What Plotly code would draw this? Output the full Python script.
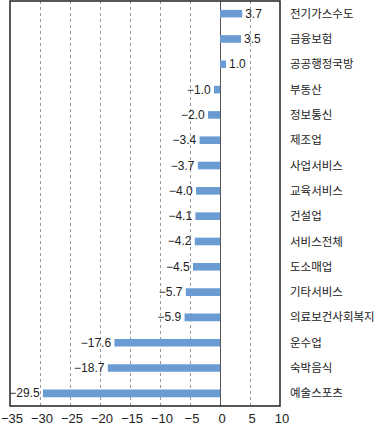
import plotly.graph_objects as go

categories = ["전기가스수도", "금융보험", "공공행정국방", "부동산", "정보통신", "제조업",
              "사업서비스", "교육서비스", "건설업", "서비스전체", "도소매업", "기타서비스",
              "의료보건사회복지", "운수업", "숙박음식", "예술스포츠"]
values = [3.7, 3.5, 1.0, -1.0, -2.0, -3.4, -3.7, -4.0, -4.1, -4.2, -4.5, -5.7,
          -5.9, -17.6, -18.7, -29.5]
x_ticks = [-35, -30, -25, -20, -15, -10, -5, 0, 5, 10]

def fmt(v, d):
    return f"{v:.{d}f}".replace("-", "\u2212")

fig = go.Figure(go.Bar(
    y=categories, x=values, orientation="h",
    marker=dict(color="#6a9bd3", line=dict(width=0)),
    width=0.3,
    text=[fmt(v, 1) for v in values], textposition="outside",
    textfont=dict(size=12, color="#222", family="Liberation Sans"),
    constraintext="none",
    cliponaxis=False,
))

fig.update_layout(
    width=380, height=429,
    margin=dict(l=10, r=100, t=1, b=23, autoexpand=False),
    plot_bgcolor="white", paper_bgcolor="white",
    showlegend=False,
    font=dict(family="Noto Sans CJK KR", color="#222"),
    shapes=[dict(type="rect", xref="paper", yref="paper", x0=0, x1=1, y0=0, y1=1,
                 line=dict(color="#222", width=1.5), layer="above")],
)
fig.update_xaxes(
    range=[-35, 10], tickvals=x_ticks, ticktext=[fmt(t, 0) for t in x_ticks],
    automargin=False, ticklabeloverflow="allow", ticklabelshift=2, ticklabelstandoff=3,
    showgrid=True, gridcolor="#999", griddash="dot", gridwidth=1,
    zeroline=True, zerolinecolor="#555", zerolinewidth=1,
    showline=False,
    ticks="", tickfont=dict(size=13, family="Liberation Sans", color="#222"),
)
fig.update_yaxes(
    side="right", autorange=False, range=[15.5, -0.5], automargin=False,
    showgrid=False, showline=False,
    ticks="", ticklabelstandoff=9,
    tickfont=dict(size=11.5, family="Noto Sans CJK KR", color="#222"),
)

fig.write_html("out.html", config={"displayModeBar": False},
               post_script="document.body.style.margin='0';document.body.style.padding='0';")
